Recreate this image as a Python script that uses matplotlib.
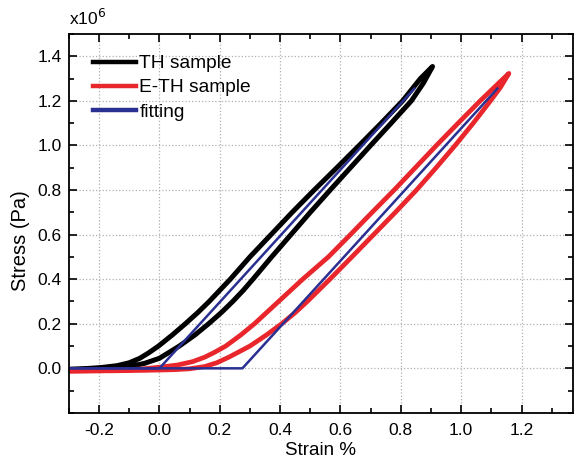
import matplotlib
matplotlib.use('Agg')
import matplotlib.pyplot as plt
from matplotlib.ticker import MultipleLocator

plt.rcParams['font.family'] = ['Liberation Sans', 'DejaVu Sans']
plt.rcParams['axes.unicode_minus'] = False

# TH sample, loading branch (lower / right)
th_load_x = [-0.30, -0.22, -0.15, -0.10, -0.05, 0.00, 0.03, 0.066, 0.118, 0.163, 0.205,
             0.243, 0.278, 0.31, 0.372, 0.436, 0.50, 0.566, 0.633, 0.70, 0.768, 0.835,
             0.875, 0.905]
th_load_y = [-0.008, -0.005, 0.0, 0.008, 0.022, 0.045, 0.07, 0.10, 0.15, 0.20, 0.25,
             0.30, 0.35, 0.40, 0.50, 0.60, 0.70, 0.80, 0.90, 1.00, 1.10, 1.20,
             1.28, 1.354]
# TH sample, unloading branch (upper / left)
th_unload_x = [0.905, 0.865, 0.806, 0.735, 0.662, 0.588, 0.513, 0.44, 0.37, 0.30, 0.235,
               0.20, 0.165, 0.127, 0.086, 0.043, -0.003, -0.035, -0.065, -0.10, -0.14,
               -0.19, -0.23, -0.30]
th_unload_y = [1.354, 1.30, 1.20, 1.10, 1.00, 0.90, 0.80, 0.70, 0.60, 0.50, 0.40,
               0.35, 0.30, 0.25, 0.20, 0.15, 0.10, 0.07, 0.045, 0.025, 0.012,
               0.004, 0.0, -0.004]

# E-TH sample, loading branch (lower / right)
eth_load_x = [-0.30, -0.15, -0.05, 0.05, 0.10, 0.15, 0.19, 0.23, 0.30, 0.355, 0.405,
              0.45, 0.49, 0.565, 0.638, 0.71, 0.782, 0.852, 0.917, 0.98, 1.04, 1.097,
              1.13, 1.158]
eth_load_y = [-0.012, -0.011, -0.009, -0.006, -0.002, 0.008, 0.025, 0.05, 0.10, 0.15, 0.20,
              0.25, 0.30, 0.40, 0.50, 0.60, 0.70, 0.80, 0.90, 1.00, 1.10, 1.20,
              1.26, 1.323]
# E-TH sample, unloading branch (upper / left)
eth_unload_x = [1.158, 1.14, 1.063, 0.99, 0.918, 0.848, 0.778, 0.705, 0.633, 0.56, 0.475,
                0.395, 0.355, 0.315, 0.27, 0.22, 0.18, 0.15, 0.11, 0.06, 0.00, -0.06,
                -0.15, -0.30]
eth_unload_y = [1.323, 1.30, 1.20, 1.10, 1.00, 0.90, 0.80, 0.70, 0.60, 0.50, 0.40,
                0.30, 0.25, 0.20, 0.15, 0.10, 0.07, 0.05, 0.03, 0.015, 0.005, -0.003,
                -0.01, -0.012]

# linear fits (flat, then straight line)
fit_th_x = [-0.30, 0.00, 0.845]
fit_th_y = [0.0, 0.0, 1.255]
fit_eth_x = [-0.30, 0.275, 1.12]
fit_eth_y = [0.0, 0.0, 1.255]

fig = plt.figure(figsize=(5.74, 4.65), dpi=100)
ax = fig.add_axes([0.120, 0.112, 0.878, 0.815])

black = '#000000'
red = '#e8262b'
blue = '#2a2f92'

ax.plot(th_load_x + th_unload_x, th_load_y + th_unload_y, color=black, lw=3.6,
        label='TH sample', solid_joinstyle='round')
ax.plot(eth_load_x + eth_unload_x, eth_load_y + eth_unload_y, color=red, lw=3.4,
        label='E-TH sample', solid_joinstyle='round')
ax.plot(fit_th_x, fit_th_y, color=blue, lw=1.8, label='fitting')
ax.plot(fit_eth_x, fit_eth_y, color=blue, lw=1.8)

ax.set_xlim(-0.3, 1.37)
ax.set_ylim(-0.2, 1.5)
ax.set_xticks([-0.2, 0.0, 0.2, 0.4, 0.6, 0.8, 1.0, 1.2])
ax.set_yticks([0.0, 0.2, 0.4, 0.6, 0.8, 1.0, 1.2, 1.4])
ax.xaxis.set_minor_locator(MultipleLocator(0.1))
ax.yaxis.set_minor_locator(MultipleLocator(0.1))
ax.tick_params(which='both', direction='in', top=True, right=True, labelsize=12.5, width=1.2)
ax.tick_params(which='major', length=6)
ax.tick_params(which='minor', length=3.5)
ax.tick_params(axis='x', pad=7)
ax.tick_params(axis='y', pad=5)
ax.grid(True, which='major', linestyle=':', color='#b0b0b0', lw=0.9)
for s in ax.spines.values():
    s.set_linewidth(1.3)

ax.set_xlabel('Strain %', fontsize=13.5, labelpad=3)
ax.set_ylabel('Stress (Pa)', fontsize=14.5)
ax.yaxis.set_label_coords(-0.078, 0.455)
ax.text(0.0, 1.015, r'x10$^6$', transform=ax.transAxes, fontsize=12.5, ha='left', va='bottom')

leg = ax.legend(loc='upper left', frameon=False, fontsize=13.8, handlelength=2.2,
                handletextpad=0.2, labelspacing=0.35, borderaxespad=0.3,
                bbox_to_anchor=(0.022, 0.98))
for ln in leg.get_lines():
    ln.set_linewidth(3.2)

fig.savefig('out.png', dpi=100)
